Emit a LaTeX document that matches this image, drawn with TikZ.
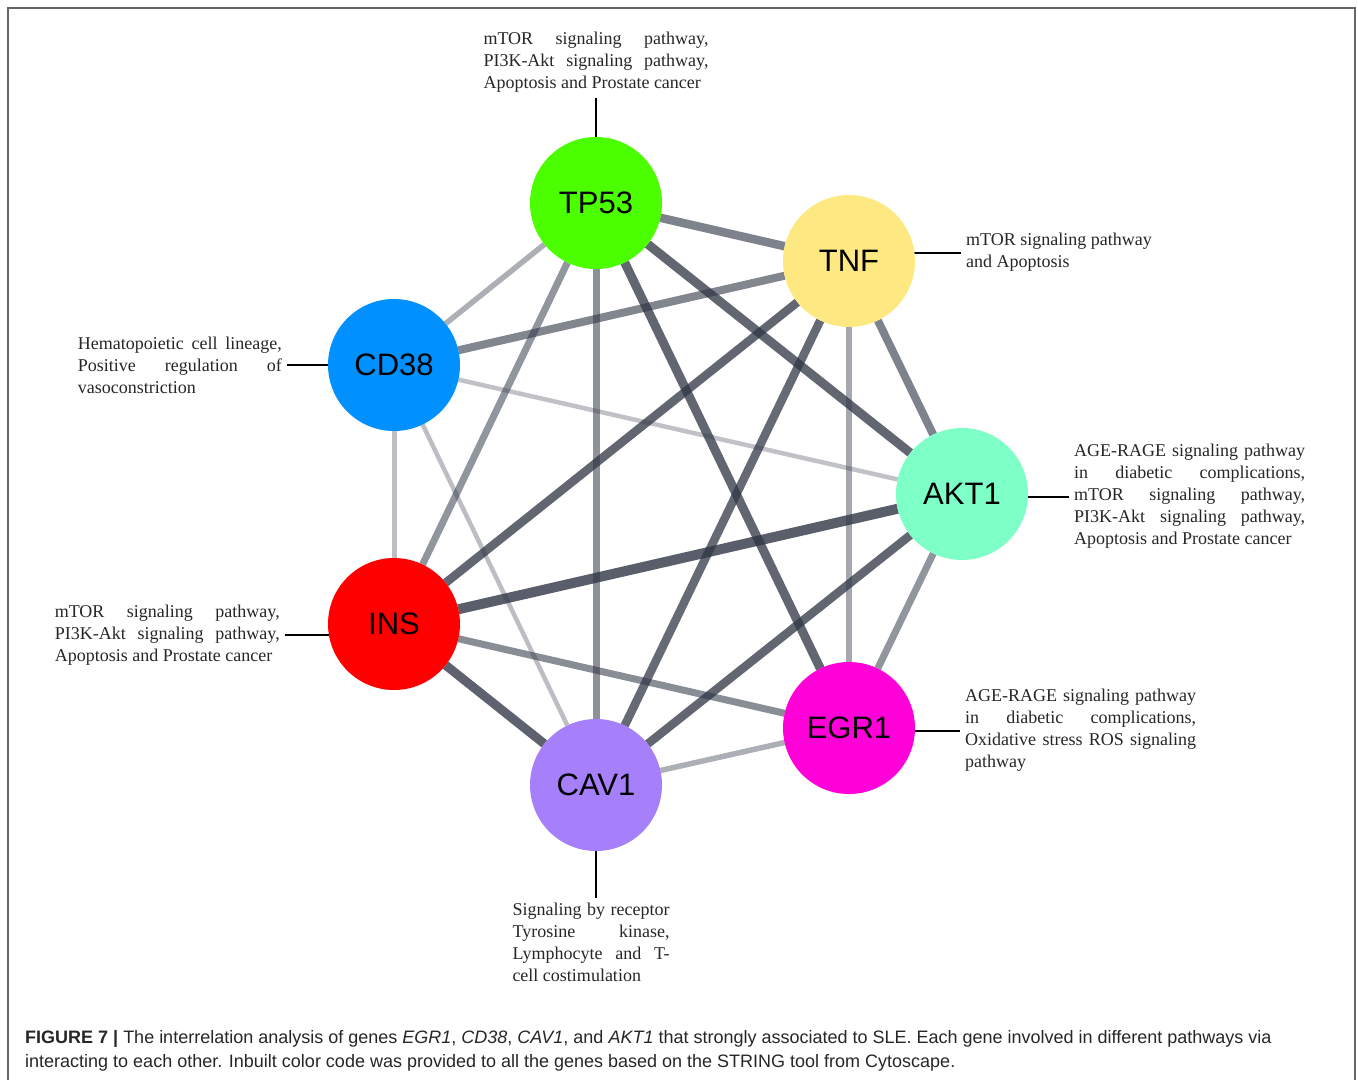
\documentclass[tikz,border=0pt]{standalone}
\usepackage{fontspec}
\setmainfont{Liberation Serif}
\setsansfont{Liberation Sans}
\usetikzlibrary{positioning,backgrounds}
\tolerance=10000
\hyphenpenalty=10000

\definecolor{tpgreen}{HTML}{4CFF00}
\definecolor{tnfyellow}{HTML}{FDE882}
\definecolor{cdblue}{HTML}{0090FF}
\definecolor{aktmint}{HTML}{7FFFC8}
\definecolor{insred}{HTML}{FF0000}
\definecolor{egrpink}{HTML}{FF00D8}
\definecolor{cavpurple}{HTML}{A67FFA}
\definecolor{linkgray}{HTML}{2F3645}

\tikzset{
  gene/.style={circle, minimum size=132pt, inner sep=0pt, outer sep=0pt,
    font=\sffamily\fontsize{31}{31}\selectfont},
  pathlab/.style={align=justify, inner sep=5pt, text=black!85, yshift=-2.5pt,
    font=\fontsize{18}{22}\selectfont},
  tie/.style={line width=2pt, black},
  link/.style={linkgray, line cap=butt},
  caption/.style={align=left, inner sep=0pt, text=black!85,
    font=\sffamily\fontsize{18}{24}\selectfont},
}

\begin{document}
\begin{tikzpicture}[x=1pt, y=-1pt]
    \useasboundingbox (0,0) rectangle (1358,1080);
    \draw[black!60, line width=2pt] (8,1080) -- (8,8) -- (1355,8) -- (1355,1080);

    % genes
    \node[gene, fill=tpgreen] (tp53) at (596,203) {TP53};
    \node[gene, fill=tnfyellow] (tnf) at (849,261) {TNF};
    \node[gene, fill=cdblue] (cd38) at (394,365) {CD38};
    \node[gene, fill=aktmint] (akt1) at (962,494) {AKT1};
    \node[gene, fill=insred] (ins) at (394,624) {INS};
    \node[gene, fill=egrpink] (egr1) at (849,728) {EGR1};
    \node[gene, fill=cavpurple] (cav1) at (596,785) {CAV1};

    % interactions
    \begin{scope}[on background layer]
        \foreach \a/\b/\w/\o in {cd38/akt1/4.5/0.30, cd38/cav1/4.5/0.32, cd38/ins/5/0.32,
                tp53/cd38/5.5/0.40, cav1/egr1/5.5/0.40, tnf/egr1/6/0.43,
                tp53/ins/7/0.53, tp53/cav1/7/0.55, akt1/egr1/7/0.53, ins/egr1/7/0.57,
                tp53/tnf/8.5/0.62, cd38/tnf/8/0.60, tnf/akt1/8/0.62,
                tp53/egr1/9/0.76, tp53/akt1/9/0.76, tnf/ins/8.5/0.76, tnf/cav1/8.5/0.74,
                akt1/cav1/8.5/0.76, ins/cav1/9/0.78, akt1/ins/10/0.80}
            \draw[link, line width=\w pt, draw opacity=\o] (\a) -- (\b);
    \end{scope}

    % pathways
    \node[pathlab, text width=225pt, above=42pt of tp53] (tp53lab)
        {mTOR signaling pathway,\linebreak PI3K-Akt signaling pathway,\linebreak Apoptosis and Prostate cancer};
    \node[pathlab, align=left, right=46pt of tnf, yshift=11pt] (tnflab)
        {mTOR signaling pathway\\and Apoptosis};
    \node[pathlab, text width=204pt, left=41pt of cd38, yshift=2.5pt] (cd38lab)
        {Hematopoietic cell lineage,\linebreak Positive regulation of\linebreak vasoconstriction};
    \node[pathlab, text width=231pt, right=41pt of akt1] (akt1lab)
        {AGE-RAGE signaling pathway\linebreak in diabetic complications,\linebreak mTOR signaling pathway,\linebreak PI3K-Akt signaling pathway,\linebreak Apoptosis and Prostate cancer};
    \node[pathlab, text width=225pt, left=43pt of ins, yshift=-8.5pt] (inslab)
        {mTOR signaling pathway,\linebreak PI3K-Akt signaling pathway,\linebreak Apoptosis and Prostate cancer};
    \node[pathlab, text width=231pt, right=45pt of egr1] (egr1lab)
        {AGE-RAGE signaling pathway\linebreak in diabetic complications,\linebreak Oxidative stress ROS signaling\linebreak pathway};
    \node[pathlab, text width=157pt, below=44pt of cav1, xshift=-5pt] (cav1lab)
        {Signaling by receptor\linebreak Tyrosine kinase,\linebreak Lymphocyte and T-\linebreak cell costimulation};

    \begin{scope}[on background layer]
        \draw[tie] (tp53) -- (tp53.center |- tp53lab.south);
        \draw[tie] (tnf.center |- tnflab.west) -- (tnflab.west);
        \draw[tie] (cd38.center |- cd38lab.east) -- (cd38lab.east);
        \draw[tie] (akt1.center |- akt1lab.west) -- (akt1lab.west);
        \draw[tie] (ins.center |- inslab.east) -- (inslab.east);
        \draw[tie] (egr1.center |- egr1lab.west) -- (egr1lab.west);
        \draw[tie] (cav1) -- (cav1.center |- cav1lab.north);
    \end{scope}

    \node[caption, anchor=north west] (cap) at (25,1030)
        {\textbf{FIGURE 7 |} The interrelation analysis of genes \textit{EGR1}, \textit{CD38}, \textit{CAV1}, and \textit{AKT1} that strongly associated to SLE. Each gene involved in different pathways via\\
         interacting to each other. Inbuilt color code was provided to all the genes based on the STRING tool from Cytoscape.};
\end{tikzpicture}
\end{document}
